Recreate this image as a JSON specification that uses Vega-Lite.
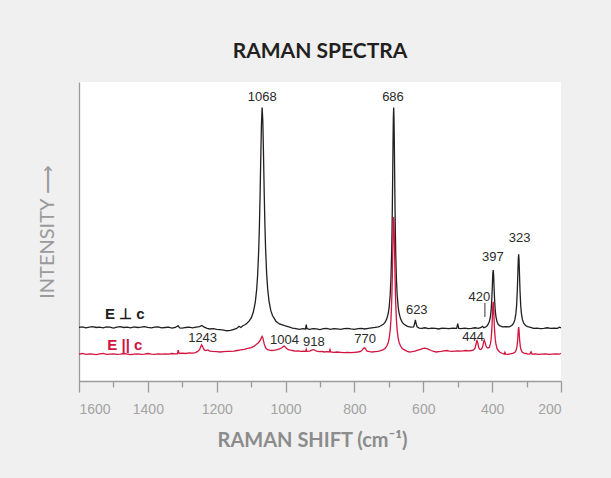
{
  "$schema": "https://vega.github.io/schema/vega-lite/v6.json",
  "autosize": "none",
  "width": 482,
  "height": 299,
  "padding": {"left": 79, "top": 82, "right": 50, "bottom": 97},
  "background": "#f0f0f0",
  "config": {"view": {"stroke": null, "fill": "white"}},
  "title": {"text": "RAMAN SPECTRA", "font": "Lato", "fontSize": 21, "fontWeight": "bold", "color": "#231f20", "anchor": "middle", "frame": "group", "baseline": "alphabetic", "offset": 3},
  "datasets": {
    "perp": [
      {"x":1600,"y":17.9},{"x":1590,"y":18.1},{"x":1580,"y":17.8},{"x":1570,"y":18.0},{"x":1560,"y":18.2},{"x":1550,"y":17.9},{"x":1540,"y":18.0},{"x":1530,"y":17.8},{"x":1520,"y":18.1},{"x":1510,"y":18.0},{"x":1500,"y":17.7},{"x":1490,"y":18.0},{"x":1480,"y":18.2},{"x":1470,"y":17.9},{"x":1460,"y":18.0},{"x":1450,"y":17.8},{"x":1440,"y":18.1},{"x":1430,"y":17.9},{"x":1420,"y":18.0},{"x":1410,"y":18.2},{"x":1400,"y":17.9},{"x":1390,"y":17.8},{"x":1380,"y":18.0},{"x":1370,"y":18.1},{"x":1360,"y":17.8},{"x":1350,"y":17.9},{"x":1340,"y":18.0},{"x":1330,"y":17.7},{"x":1320,"y":17.9},{"x":1312,"y":18.5},{"x":1308,"y":17.8},{"x":1300,"y":17.7},{"x":1290,"y":17.9},{"x":1280,"y":18.0},{"x":1270,"y":17.8},{"x":1260,"y":18.0},{"x":1250,"y":18.2},{"x":1243,"y":18.6},{"x":1236,"y":18.0},{"x":1228,"y":17.6},{"x":1220,"y":17.4},{"x":1210,"y":17.5},{"x":1200,"y":17.3},{"x":1190,"y":17.2},{"x":1180,"y":17.0},{"x":1170,"y":16.8},{"x":1160,"y":16.9},{"x":1150,"y":17.3},{"x":1142,"y":17.6},{"x":1135,"y":18.3},{"x":1130,"y":17.9},{"x":1124,"y":18.5},{"x":1118,"y":18.8},{"x":1112,"y":19.3},{"x":1106,"y":20.0},{"x":1100,"y":21.0},{"x":1094,"y":22.9},{"x":1088,"y":26.3},{"x":1084,"y":30.5},{"x":1081,"y":35.7},{"x":1078,"y":43.8},{"x":1076,"y":51.8},{"x":1074,"y":62.3},{"x":1072,"y":74.8},{"x":1070,"y":86.3},{"x":1068,"y":91.5},{"x":1066,"y":86.6},{"x":1064,"y":75.1},{"x":1062,"y":62.6},{"x":1060,"y":52.1},{"x":1058,"y":44.1},{"x":1055,"y":36.0},{"x":1052,"y":30.8},{"x":1048,"y":26.6},{"x":1043,"y":23.6},{"x":1038,"y":21.9},{"x":1028,"y":20.0},{"x":1018,"y":19.1},{"x":1003,"y":18.5},{"x":988,"y":18.0},{"x":980,"y":17.7},{"x":970,"y":17.5},{"x":960,"y":17.3},{"x":950,"y":17.5},{"x":942,"y":17.4},{"x":940,"y":18.9},{"x":938,"y":17.5},{"x":930,"y":17.3},{"x":920,"y":17.5},{"x":910,"y":17.4},{"x":900,"y":17.2},{"x":890,"y":17.5},{"x":880,"y":17.6},{"x":870,"y":17.3},{"x":860,"y":17.5},{"x":850,"y":17.4},{"x":840,"y":17.3},{"x":830,"y":17.5},{"x":820,"y":17.6},{"x":810,"y":17.4},{"x":800,"y":17.3},{"x":790,"y":17.5},{"x":780,"y":17.6},{"x":770,"y":17.4},{"x":760,"y":17.6},{"x":750,"y":17.8},{"x":740,"y":17.9},{"x":730,"y":18.1},{"x":726,"y":18.3},{"x":716,"y":19.0},{"x":711,"y":19.6},{"x":706,"y":20.8},{"x":702,"y":22.5},{"x":699,"y":24.8},{"x":696,"y":29.0},{"x":694,"y":34.1},{"x":692,"y":42.6},{"x":691,"y":49.0},{"x":690,"y":57.2},{"x":689,"y":67.3},{"x":688,"y":78.4},{"x":687,"y":87.7},{"x":686,"y":91.5},{"x":685,"y":87.7},{"x":684,"y":78.4},{"x":683,"y":67.3},{"x":682,"y":57.2},{"x":681,"y":49.0},{"x":680,"y":42.6},{"x":678,"y":34.1},{"x":676,"y":29.0},{"x":673,"y":24.8},{"x":670,"y":22.5},{"x":666,"y":20.8},{"x":661,"y":19.6},{"x":656,"y":19.0},{"x":646,"y":18.3},{"x":636,"y":18.0},{"x":628,"y":18.1},{"x":625,"y":19.3},{"x":623,"y":20.4},{"x":621,"y":19.3},{"x":618,"y":18.1},{"x":612,"y":17.7},{"x":605,"y":17.6},{"x":595,"y":17.8},{"x":585,"y":17.5},{"x":575,"y":17.7},{"x":565,"y":17.6},{"x":555,"y":17.4},{"x":545,"y":17.7},{"x":535,"y":17.6},{"x":525,"y":17.5},{"x":515,"y":17.7},{"x":503,"y":17.6},{"x":500,"y":19.2},{"x":497,"y":17.6},{"x":490,"y":17.5},{"x":480,"y":17.7},{"x":470,"y":17.5},{"x":460,"y":17.6},{"x":450,"y":17.8},{"x":440,"y":17.6},{"x":432,"y":17.9},{"x":428,"y":18.3},{"x":424,"y":17.8},{"x":420,"y":18.0},{"x":415,"y":18.4},{"x":412,"y":18.9},{"x":408,"y":19.9},{"x":405,"y":21.5},{"x":403,"y":23.6},{"x":401,"y":27.4},{"x":400,"y":30.1},{"x":399,"y":33.2},{"x":398,"y":36.0},{"x":397,"y":37.1},{"x":396,"y":36.0},{"x":395,"y":33.2},{"x":394,"y":30.1},{"x":393,"y":27.4},{"x":391,"y":23.6},{"x":389,"y":21.5},{"x":386,"y":19.9},{"x":382,"y":18.9},{"x":377,"y":18.4},{"x":370,"y":18.1},{"x":360,"y":18.2},{"x":350,"y":18.1},{"x":343,"y":18.55},{"x":338,"y":19.25},{"x":334,"y":20.5},{"x":331,"y":22.6},{"x":329,"y":25.2},{"x":327,"y":30.0},{"x":326,"y":33.5},{"x":325,"y":37.4},{"x":324,"y":40.9},{"x":323,"y":42.4},{"x":322,"y":40.9},{"x":321,"y":37.4},{"x":320,"y":33.5},{"x":319,"y":30.0},{"x":317,"y":25.2},{"x":315,"y":22.6},{"x":312,"y":20.5},{"x":308,"y":19.25},{"x":303,"y":18.55},{"x":297,"y":18.2},{"x":288,"y":17.9},{"x":280,"y":17.6},{"x":270,"y":17.7},{"x":260,"y":17.5},{"x":250,"y":17.6},{"x":240,"y":17.8},{"x":230,"y":17.6},{"x":220,"y":17.7},{"x":210,"y":17.6},{"x":205,"y":18.0},{"x":200,"y":17.8}
    ],
    "par": [
      {"x":1600,"y":9.0},{"x":1590,"y":9.2},{"x":1580,"y":8.9},{"x":1570,"y":9.1},{"x":1560,"y":9.0},{"x":1550,"y":8.8},{"x":1540,"y":9.1},{"x":1530,"y":9.2},{"x":1520,"y":8.9},{"x":1510,"y":9.0},{"x":1500,"y":9.1},{"x":1490,"y":8.9},{"x":1480,"y":9.0},{"x":1470,"y":9.2},{"x":1460,"y":9.0},{"x":1450,"y":8.8},{"x":1440,"y":9.0},{"x":1430,"y":9.1},{"x":1420,"y":8.9},{"x":1410,"y":9.0},{"x":1400,"y":9.2},{"x":1390,"y":9.0},{"x":1380,"y":8.9},{"x":1370,"y":9.1},{"x":1360,"y":9.0},{"x":1350,"y":9.1},{"x":1340,"y":9.0},{"x":1330,"y":9.2},{"x":1320,"y":9.1},{"x":1314,"y":9.1},{"x":1312,"y":10.3},{"x":1309,"y":9.2},{"x":1300,"y":9.3},{"x":1290,"y":9.2},{"x":1280,"y":9.4},{"x":1270,"y":9.3},{"x":1262,"y":9.5},{"x":1255,"y":9.9},{"x":1250,"y":10.5},{"x":1247,"y":11.3},{"x":1244,"y":12.1},{"x":1242,"y":11.8},{"x":1239,"y":11.0},{"x":1236,"y":10.4},{"x":1232,"y":10.2},{"x":1226,"y":10.4},{"x":1220,"y":10.0},{"x":1212,"y":9.9},{"x":1200,"y":9.8},{"x":1190,"y":9.7},{"x":1180,"y":9.8},{"x":1170,"y":9.9},{"x":1160,"y":9.9},{"x":1150,"y":10.0},{"x":1140,"y":10.2},{"x":1130,"y":10.4},{"x":1120,"y":10.6},{"x":1110,"y":10.9},{"x":1100,"y":11.2},{"x":1092,"y":11.6},{"x":1086,"y":12.1},{"x":1080,"y":12.7},{"x":1076,"y":13.2},{"x":1072,"y":14.0},{"x":1070,"y":14.5},{"x":1068,"y":14.9},{"x":1066,"y":14.4},{"x":1064,"y":13.4},{"x":1062,"y":12.4},{"x":1059,"y":11.4},{"x":1056,"y":10.8},{"x":1052,"y":10.5},{"x":1046,"y":10.3},{"x":1040,"y":10.2},{"x":1032,"y":10.3},{"x":1024,"y":10.5},{"x":1016,"y":10.8},{"x":1010,"y":11.2},{"x":1006,"y":11.6},{"x":1004,"y":11.7},{"x":1001,"y":11.4},{"x":997,"y":10.9},{"x":992,"y":10.5},{"x":986,"y":10.3},{"x":980,"y":10.2},{"x":972,"y":10.0},{"x":964,"y":10.1},{"x":956,"y":9.9},{"x":948,"y":10.0},{"x":942,"y":9.9},{"x":940,"y":10.6},{"x":938,"y":9.9},{"x":930,"y":10.0},{"x":924,"y":10.3},{"x":920,"y":10.5},{"x":918,"y":10.5},{"x":915,"y":10.3},{"x":910,"y":10.0},{"x":902,"y":9.8},{"x":895,"y":9.9},{"x":888,"y":9.7},{"x":880,"y":9.8},{"x":873,"y":9.7},{"x":871,"y":10.5},{"x":869,"y":9.7},{"x":860,"y":9.6},{"x":850,"y":9.7},{"x":840,"y":9.6},{"x":830,"y":9.5},{"x":820,"y":9.6},{"x":810,"y":9.5},{"x":800,"y":9.6},{"x":790,"y":9.7},{"x":782,"y":9.9},{"x":777,"y":10.4},{"x":773,"y":11.0},{"x":770,"y":11.1},{"x":767,"y":10.6},{"x":763,"y":10.0},{"x":756,"y":9.8},{"x":748,"y":9.7},{"x":740,"y":9.8},{"x":732,"y":9.9},{"x":726,"y":10.1},{"x":716,"y":10.5},{"x":711,"y":10.9},{"x":706,"y":11.7},{"x":702,"y":12.8},{"x":699,"y":14.3},{"x":696,"y":17.1},{"x":694,"y":20.4},{"x":692,"y":25.8},{"x":691,"y":29.8},{"x":690,"y":34.8},{"x":689,"y":40.9},{"x":688,"y":47.3},{"x":687,"y":52.7},{"x":686,"y":54.8},{"x":685,"y":52.7},{"x":684,"y":47.3},{"x":683,"y":40.9},{"x":682,"y":34.8},{"x":681,"y":29.8},{"x":680,"y":25.8},{"x":678,"y":20.4},{"x":676,"y":17.1},{"x":673,"y":14.3},{"x":670,"y":12.8},{"x":666,"y":11.7},{"x":661,"y":10.9},{"x":656,"y":10.5},{"x":648,"y":10.0},{"x":640,"y":9.7},{"x":632,"y":9.8},{"x":624,"y":10.0},{"x":616,"y":10.3},{"x":608,"y":10.6},{"x":600,"y":10.9},{"x":595,"y":11.0},{"x":590,"y":10.8},{"x":584,"y":10.6},{"x":578,"y":10.2},{"x":570,"y":9.9},{"x":562,"y":9.7},{"x":555,"y":9.8},{"x":548,"y":9.9},{"x":540,"y":10.1},{"x":532,"y":10.2},{"x":524,"y":10.0},{"x":516,"y":9.9},{"x":508,"y":10.0},{"x":500,"y":10.1},{"x":492,"y":10.0},{"x":484,"y":10.1},{"x":476,"y":10.2},{"x":468,"y":10.1},{"x":460,"y":10.2},{"x":454,"y":10.4},{"x":450,"y":10.9},{"x":447,"y":12.2},{"x":445,"y":13.3},{"x":444,"y":13.5},{"x":442,"y":12.8},{"x":439,"y":11.2},{"x":436,"y":10.6},{"x":433,"y":10.5},{"x":430,"y":10.8},{"x":427,"y":11.8},{"x":425,"y":13.0},{"x":423,"y":13.7},{"x":421,"y":13.1},{"x":418,"y":11.8},{"x":415,"y":11.2},{"x":412,"y":11.0},{"x":408,"y":11.3},{"x":405,"y":12.5},{"x":403,"y":14.0},{"x":401,"y":17.0},{"x":400,"y":19.4},{"x":399,"y":22.4},{"x":398,"y":25.2},{"x":397,"y":26.5},{"x":396,"y":25.2},{"x":395,"y":22.4},{"x":394,"y":19.4},{"x":393,"y":17.0},{"x":391,"y":14.0},{"x":389,"y":12.3},{"x":386,"y":10.9},{"x":382,"y":10.1},{"x":377,"y":9.6},{"x":370,"y":9.2},{"x":365,"y":9.0},{"x":363,"y":9.6},{"x":361,"y":9.0},{"x":355,"y":8.9},{"x":348,"y":9.1},{"x":338,"y":9.35},{"x":333,"y":9.7},{"x":330,"y":10.4},{"x":328,"y":11.4},{"x":326,"y":13.5},{"x":325,"y":15.2},{"x":324,"y":17.1},{"x":323,"y":18.0},{"x":322,"y":17.1},{"x":321,"y":15.2},{"x":320,"y":13.5},{"x":318,"y":11.4},{"x":316,"y":10.4},{"x":313,"y":9.7},{"x":308,"y":9.35},{"x":302,"y":9.2},{"x":296,"y":9.0},{"x":290,"y":9.1},{"x":287,"y":9.8},{"x":284,"y":9.0},{"x":275,"y":9.1},{"x":265,"y":8.9},{"x":255,"y":9.0},{"x":245,"y":9.1},{"x":235,"y":8.9},{"x":225,"y":9.0},{"x":215,"y":9.1},{"x":205,"y":9.0},{"x":200,"y":9.2}
    ],
    "peaks": [
      {"x":1068,"y":95.0,"t":"1068"},{"x":688,"y":95.0,"t":"686"},{"x":619,"y":23.7,"t":"623"},{"x":437,"y":28.2,"t":"420"},{"x":398,"y":41.4,"t":"397"},{"x":320,"y":47.7,"t":"323"},{"x":455,"y":14.6,"t":"444"},{"x":769,"y":14.0,"t":"770"},{"x":1241,"y":14.3,"t":"1243"},{"x":1003,"y":13.8,"t":"1004"},{"x":918,"y":13.1,"t":"918"}
    ],
    "series": [
      {"x":1467,"y":22.3,"t":"E ⊥ c","s":"perp"},{"x":1467,"y":12.2,"t":"E || c","s":"par"}
    ],
    "marker": [{"x":421,"y":21.4,"y2":26.1}]
  },
  "encoding": {
    "x": {"field": "x", "type": "quantitative",
      "scale": {"domain": [200, 1600], "reverse": true, "nice": false, "zero": false},
      "axis": {"values": [1600,1500,1400,1300,1200,1100,1000,900,800,700,600,500,400,300,200],
        "labelExpr": "datum.value % 200 === 0 ? datum.label : ''",
        "format": "d",
        "tickSize": {"condition": {"test": "datum.value % 200 === 0", "value": 11}, "value": 6},
        "grid": false, "domainColor": "#9a9a9a", "domainWidth": 1.3, "tickColor": "#9a9a9a", "tickWidth": 1.3,
        "labelColor": "#a3a3a3", "labelFont": "Liberation Sans", "labelFontSize": 14, "labelPadding": 10,
        "title": "RAMAN SHIFT (cm⁻¹)", "titleFont": "Lato", "titleFontWeight": "bold", "titleFontSize": 20, "titleColor": "#8c8c8c", "titlePadding": 14, "titleX": 233}},
    "y": {"field": "y", "type": "quantitative",
      "scale": {"domain": [0, 100], "nice": false},
      "axis": {"ticks": false, "labels": false, "grid": false, "domainColor": "#9a9a9a", "domainWidth": 1.3,
        "title": "INTENSITY ⟶", "titleFont": "Lato", "titleFontWeight": "normal", "titleFontSize": 20, "titleColor": "#9a9a9a", "titlePadding": 22}}
  },
  "layer": [
    {"data": {"name": "perp"}, "mark": {"type": "line", "color": "#231f20", "strokeWidth": 1.3}},
    {"data": {"name": "par"}, "mark": {"type": "line", "color": "#d2143f", "strokeWidth": 1.3}},
    {"data": {"name": "marker"}, "mark": {"type": "rule", "color": "#333333", "strokeWidth": 1}, "encoding": {"y2": {"field": "y2"}}},
    {"data": {"name": "peaks"}, "mark": {"type": "text", "font": "Liberation Sans", "fontSize": 13, "color": "#2a2a2a", "baseline": "middle"}, "encoding": {"text": {"field": "t"}}},
    {"data": {"name": "series"}, "mark": {"type": "text", "font": "Liberation Sans", "fontSize": 15, "fontWeight": "bold", "baseline": "middle"},
      "encoding": {"text": {"field": "t"}, "color": {"field": "s", "type": "nominal", "scale": {"domain": ["perp", "par"], "range": ["#231f20", "#d2143f"]}, "legend": null}}}
  ]
}
